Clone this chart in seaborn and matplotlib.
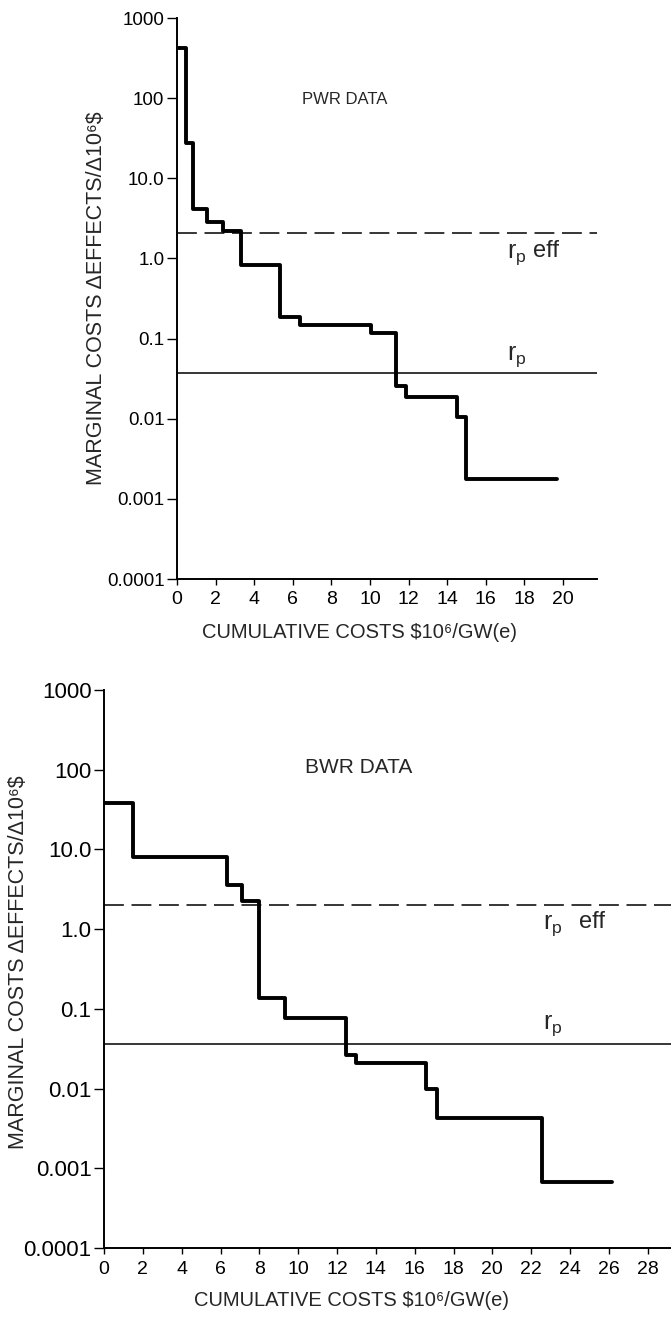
import matplotlib
matplotlib.use("Agg")
import matplotlib.pyplot as plt
import numpy as np
import pandas as pd
import seaborn as sns

# step curves: cumulative cost where each step starts, marginal cost of the step
pwr_cost = [0, 0.45, 0.81, 1.53, 2.4, 3.3, 5.33, 6.35, 10.03, 11.33, 11.84, 14.49, 14.96, 19.7]
pwr_marg = [420, 27.7, 4.1, 2.86, 2.19, 0.82, 0.187, 0.147, 0.119, 0.0255, 0.0184, 0.0105, 0.00179, 0.00179]

bwr_cost = [0, 1.5, 6.35, 7.11, 7.97, 9.3, 12.46, 13.0, 16.57, 17.16, 22.55, 26.14]
bwr_marg = [37.9, 8.0, 3.6, 2.28, 0.135, 0.0757, 0.0267, 0.0209, 0.00976, 0.0043, 0.00068, 0.00068]

# reference rates
pwr_rp_eff = 2.05
pwr_rp = 0.037
bwr_rp_eff = 2.0
bwr_rp = 0.036

ytick_vals = [1000, 100, 10, 1, 0.1, 0.01, 0.001, 0.0001]
ytick_labels = ["1000", "100", "10.0", "1.0", "0.1", "0.01", "0.001", "0.0001"]
pwr_xticks = list(range(0, 21, 2))
bwr_xticks = list(range(0, 29, 2))

ylab = "MARGINAL COSTS \u0394EFFECTS/\u039410\u2076\\$"
xlab = "CUMULATIVE COSTS \\$10\u2076/GW(e)"

sns.set_theme(style="ticks")
plt.rcParams['font.family'] = ['Liberation Sans', 'DejaVu Sans']
plt.rcParams['mathtext.fontset'] = 'custom'
plt.rcParams['mathtext.rm'] = 'Liberation Sans'

W, H = 671, 1317
fig = plt.figure(figsize=(W / 100, H / 100), dpi=100)


def px_rect(left, top, right, bottom):
    return [left / W, 1 - bottom / H, (right - left) / W, (bottom - top) / H]


def draw_panel(ax, cost, marg, rp_eff, rp, xmax, xticks, ysize):
    df = pd.DataFrame({"cost": cost, "marg": marg})
    sns.lineplot(data=df, x="cost", y="marg", ax=ax, color="black", lw=2.8,
                 drawstyle="steps-post", estimator=None, sort=True)
    ax.axhline(rp_eff, color="black", lw=1.1, ls=(0, (13, 5)))
    ax.axhline(rp, color="black", lw=1.1)
    ax.set_yscale("log")
    ax.set_ylim(1e-4, 1e3)
    ax.set_xlim(0, xmax)
    ax.set_yticks(ytick_vals)
    ax.set_yticklabels(ytick_labels)
    ax.yaxis.set_minor_locator(matplotlib.ticker.NullLocator())
    ax.set_xticks(xticks)
    ax.set_xticklabels([str(t) for t in xticks])
    ax.set_xlabel("")
    ax.set_ylabel("")
    ax.tick_params(axis="y", direction="out", length=7, width=1, pad=2, labelsize=ysize, colors="black")
    ax.tick_params(axis="x", direction="out", length=4, width=1, pad=5, labelsize=14, colors="black")
    for s in ["left", "bottom"]:
        ax.spines[s].set_linewidth(1.4)
        ax.spines[s].set_color("black")
    sns.despine(ax=ax)
    ax.set_facecolor("white")


def rp_label(ax, x, y, eff=False, gap=22):
    ax.text(x, y, r"$\mathregular{r_p}$", ha="left", va="center", fontsize=18)
    if eff:
        ax.annotate("eff", xy=(x, y), xytext=(gap, 3), textcoords="offset points",
                    ha="left", va="center", fontsize=17)


# PWR panel
ax1 = fig.add_axes(px_rect(177, 18, 597, 579))
draw_panel(ax1, pwr_cost, pwr_marg, pwr_rp_eff, pwr_rp, 21.76, pwr_xticks, 13.5)
ax1.text(8.7, 95, "PWR DATA", ha="center", va="center", fontsize=12)
rp_label(ax1, 17.1, 1.1, eff=True, gap=19)
rp_label(ax1, 17.1, 0.06)
fig.text(97 / W, 1 - 298 / H, ylab, rotation=90, ha="center", va="center", fontsize=15.5)
fig.text(360 / W, 1 - 632 / H, xlab, ha="center", va="center", fontsize=14.5)

# BWR panel
ax2 = fig.add_axes(px_rect(104, 690, 671, 1248))
draw_panel(ax2, bwr_cost, bwr_marg, bwr_rp_eff, bwr_rp, 29.2, bwr_xticks, 16)
ax2.text(13.1, 108, "BWR DATA", ha="center", va="center", fontsize=15)
rp_label(ax2, 22.6, 1.1, eff=True, gap=26)
rp_label(ax2, 22.6, 0.062)
fig.text(19 / W, 1 - 962 / H, ylab, rotation=90, ha="center", va="center", fontsize=15.5)
fig.text(352 / W, 1 - 1300 / H, xlab, ha="center", va="center", fontsize=14.5)

fig.savefig("out.png", dpi=100, facecolor="white")
